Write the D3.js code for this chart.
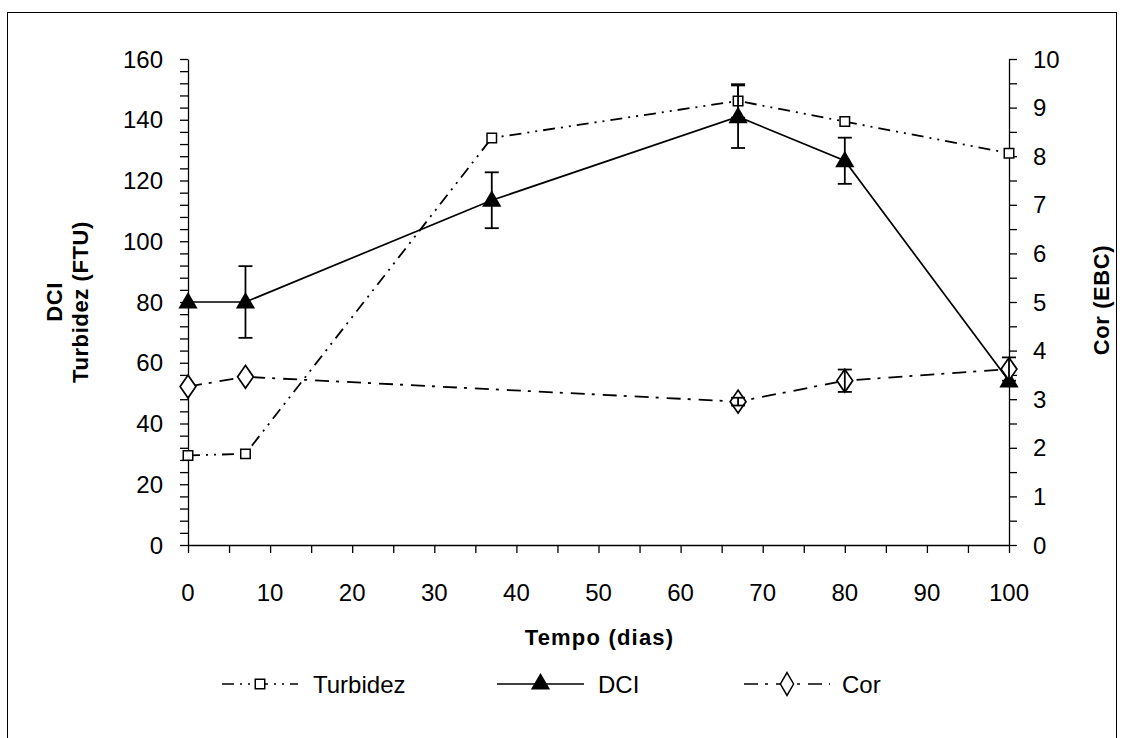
<!DOCTYPE html>
<html><head><meta charset="utf-8">
<script src="https://cdn.jsdelivr.net/npm/d3@7"></script>
<style>body{margin:0;background:#fff}text{font-family:"Liberation Sans",Arial,sans-serif}</style>
</head><body>
<svg id="c" width="1126" height="738"></svg>
<script>
const days = [0, 7, 37, 67, 80, 100];
const turbidez = [29.5, 30, 134, 146.2, 139.4, 129];
const turbidezErr = [0, 0, 0, 5.5, 0, 0];
const dci = [80, 80, 113.5, 141, 126.5, 54];
const dciErr = [0, 11.8, 9.2, 10.3, 7.6, 0];
const cor = [3.26, 3.46, 2.95, 3.38, 3.62];
const corDays = [0, 7, 67, 80, 100];
const corErr = [0, 0, 0.08, 0.23, 0.24];
const xTicks = [0,10,20,30,40,50,60,70,80,90,100];
const yLeftTicks = [0,20,40,60,80,100,120,140,160];
const yRightTicks = [0,1,2,3,4,5,6,7,8,9,10];

const svg = d3.select("#c");
const L = 188, R = 1009, T = 59, B = 545;
const x = d3.scaleLinear().domain([0,100]).range([L,R]);
const yl = d3.scaleLinear().domain([0,160]).range([B,T]);
const yr = d3.scaleLinear().domain([0,10]).range([B,T]);

svg.append("rect").attr("x",7.5).attr("y",12.5).attr("width",1109).attr("height",740)
  .attr("fill","none").attr("stroke","#000").attr("stroke-width",1);

function styleAxis(g){
  g.selectAll("path").attr("stroke","#000").attr("stroke-width",1.3);
  g.selectAll("line").attr("stroke","#000").attr("stroke-width",1.3);
  g.selectAll("text").remove();
}
const gl = svg.append("g").attr("transform",`translate(${L},0)`)
  .call(d3.axisLeft(yl).tickValues(d3.range(0,161,4)).tickSize(8).tickSizeOuter(0));
styleAxis(gl);
const gr = svg.append("g").attr("transform",`translate(${R},0)`)
  .call(d3.axisRight(yr).tickValues(d3.range(0,10.01,0.5)).tickSize(8).tickSizeOuter(0));
styleAxis(gr);
const gx = svg.append("g").attr("transform",`translate(0,${B})`)
  .call(d3.axisBottom(x).tickValues(d3.range(0,101,5)).tickSize(8).tickSizeOuter(0));
styleAxis(gx);

const fs = 24;
svg.append("g").selectAll("text").data(yLeftTicks).join("text")
  .attr("x",163).attr("y",d=>yl(d)).attr("dy","0.36em").attr("text-anchor","end")
  .attr("font-size",fs).text(d=>d);
svg.append("g").selectAll("text").data(yRightTicks).join("text")
  .attr("x",1033).attr("y",d=>yr(d)).attr("dy","0.36em").attr("text-anchor","start")
  .attr("font-size",fs).text(d=>d);
svg.append("g").selectAll("text").data(xTicks).join("text")
  .attr("x",d=>x(d)).attr("y",592).attr("dy","0.36em").attr("text-anchor","middle")
  .attr("font-size",fs).text(d=>d);

svg.append("text").attr("x",(L+R)/2+1).attr("y",645).attr("text-anchor","middle")
  .attr("font-size",22).attr("font-weight","bold").attr("letter-spacing",1.2).text("Tempo (dias)");
const ylab = svg.append("text").attr("transform",`translate(62,302) rotate(-90)`)
  .attr("text-anchor","middle").attr("font-size",22).attr("font-weight","bold").attr("letter-spacing",0.6);
ylab.append("tspan").attr("x",0).attr("y",0).text("DCI");
ylab.append("tspan").attr("x",0).attr("y",26).text("Turbidez (FTU)");
svg.append("text").attr("transform",`translate(1109,300) rotate(-90)`)
  .attr("text-anchor","middle").attr("font-size",22).attr("font-weight","bold").attr("letter-spacing",0.6).text("Cor (EBC)");

const turbDash = "12,6,2,6,2,6";
const corDash = "14,7,3,8";

const tData = days.map((d,i)=>({x:d,y:turbidez[i],e:turbidezErr[i]}));
const dData = days.map((d,i)=>({x:d,y:dci[i],e:dciErr[i]}));
const cData = corDays.map((d,i)=>({x:d,y:cor[i],e:corErr[i]}));

function errBars(data, ys){
  const g = svg.append("g").attr("stroke","#000").attr("stroke-width",1.8);
  data.filter(d=>d.e>0).forEach(d=>{
    const cx = x(d.x);
    g.append("line").attr("x1",cx).attr("x2",cx).attr("y1",ys(d.y-d.e)).attr("y2",ys(d.y+d.e));
    [d.y-d.e,d.y+d.e].forEach(v=>g.append("line").attr("x1",cx-7).attr("x2",cx+7).attr("y1",ys(v)).attr("y2",ys(v)));
  });
}

const line = (ys)=>d3.line().x(d=>x(d.x)).y(d=>ys(d.y));
svg.append("path").datum(tData).attr("d",line(yl)).attr("fill","none").attr("stroke","#000")
  .attr("stroke-width",1.8).attr("stroke-dasharray",turbDash);
errBars(tData, yl);
svg.append("path").datum(dData).attr("d",line(yl)).attr("fill","none").attr("stroke","#000")
  .attr("stroke-width",1.7);
svg.append("path").datum(cData).attr("d",line(yr)).attr("fill","none").attr("stroke","#000")
  .attr("stroke-width",1.8).attr("stroke-dasharray",corDash);

const sq = d3.symbol().type(d3.symbolSquare).size(90);
const tri = d3.symbol().type(d3.symbolTriangle).size(160);
const dia = d3.symbol().type(d3.symbolDiamond).size(150);

svg.append("g").selectAll("path").data(tData).join("path")
  .attr("transform",d=>`translate(${x(d.x)},${yl(d.y)})`).attr("d",sq)
  .attr("fill","#fff").attr("stroke","#000").attr("stroke-width",1.5);
errBars(dData, yl);
svg.append("g").selectAll("path").data(dData).join("path")
  .attr("transform",d=>`translate(${x(d.x)},${yl(d.y)+1})`).attr("d",tri)
  .attr("fill","#000");
svg.append("g").selectAll("path").data(cData).join("path")
  .attr("transform",d=>`translate(${x(d.x)},${yr(d.y)}) scale(1.2,1)`).attr("d",dia)
  .attr("fill","#fff").attr("stroke","#000").attr("stroke-width",1.5);
errBars(cData, yr);

const ly = 684;
const leg = [
  {name:"Turbidez", x1:222, x2:298, dash:turbDash, sym:sq, fill:"#fff", tx:313},
  {name:"DCI", x1:497, x2:584, dash:null, sym:tri, fill:"#000", tx:598},
  {name:"Cor", x1:744, x2:830, dash:corDash, sym:dia, fill:"#fff", tx:842}
];
leg.forEach(l=>{
  svg.append("line").attr("x1",l.x1).attr("x2",l.x2).attr("y1",ly).attr("y2",ly)
    .attr("stroke","#000").attr("stroke-width",1.7).attr("stroke-dasharray",l.dash);
  svg.append("path").attr("transform",`translate(${(l.x1+l.x2)/2},${ly})`).attr("d",l.sym)
    .attr("fill",l.fill).attr("stroke",l.fill==="#000"?"none":"#000").attr("stroke-width",1.5);
  svg.append("text").attr("x",l.tx).attr("y",ly).attr("dy","0.36em").attr("font-size",fs).text(l.name);
});
</script>
</body></html>
